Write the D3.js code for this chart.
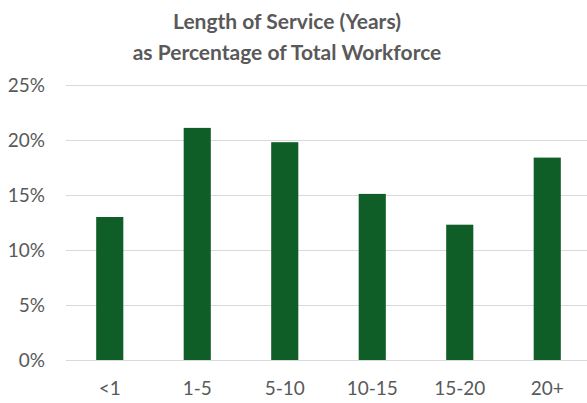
<!DOCTYPE html>
<html>
<head>
<meta charset="utf-8">
<script src="https://cdn.jsdelivr.net/npm/d3@7"></script>
<style>
  body { margin: 0; background: #fff; }
  text { font-family: Lato, "Open Sans", sans-serif; fill: #595959; }
</style>
</head>
<body>
<svg id="chart" width="587" height="403"></svg>
<script>
// chart data
var categories = ["<1", "1-5", "5-10", "10-15", "15-20", "20+"];
var percents = [13.0, 21.1, 19.8, 15.1, 12.3, 18.4];
var yTicks = [0, 5, 10, 15, 20, 25];
var titleLines = ["Length of Service (Years)", "as Percentage of Total Workforce"];

var svg = d3.select("#chart"),
    margin = {top: 85, right: 0, bottom: 43, left: 66},
    width = 587 - margin.left - margin.right,
    height = 403 - margin.top - margin.bottom;

var g = svg.append("g")
    .attr("transform", "translate(" + margin.left + "," + margin.top + ")");

var x = d3.scaleBand().domain(categories).range([0, 525]).paddingInner(0.69).paddingOuter(0.345);
var y = d3.scaleLinear().domain([0, 25]).range([height, 0]);

// gridlines
g.append("g")
    .selectAll("line")
    .data(yTicks)
    .enter().append("line")
    .attr("x1", 0)
    .attr("x2", width)
    .attr("y1", function(d) { return Math.round(y(d)) + 0.5; })
    .attr("y2", function(d) { return Math.round(y(d)) + 0.5; })
    .attr("stroke", "#d9d9d9")
    .attr("stroke-width", 1.2);

// y axis labels
var yAxis = g.append("g")
    .call(d3.axisLeft(y).tickValues(yTicks).tickFormat(function(d) { return d + "%"; }).tickSize(0).tickPadding(21));
yAxis.select(".domain").remove();
yAxis.selectAll("text").style("font-size", "19px").attr("fill", "#595959");

// bars
g.selectAll(".bar")
    .data(percents)
    .enter().append("rect")
    .attr("class", "bar")
    .attr("x", function(d, i) { return x(categories[i]); })
    .attr("width", x.bandwidth())
    .attr("y", function(d) { return y(d); })
    .attr("height", function(d) { return height - y(d); })
    .attr("fill", "#0f5e27");

// x axis labels
var xAxis = g.append("g")
    .attr("transform", "translate(0," + height + ")")
    .call(d3.axisBottom(x).tickSize(0).tickPadding(22));
xAxis.select(".domain").remove();
xAxis.selectAll("text").style("font-size", "19px").attr("fill", "#595959");

// title
svg.append("g")
    .selectAll("text")
    .data(titleLines)
    .enter().append("text")
    .attr("x", 287)
    .attr("y", function(d, i) { return 29 + i * 31; })
    .attr("text-anchor", "middle")
    .style("font-size", "21px")
    .style("font-weight", "bold")
    .text(function(d) { return d; });
</script>
</body>
</html>
